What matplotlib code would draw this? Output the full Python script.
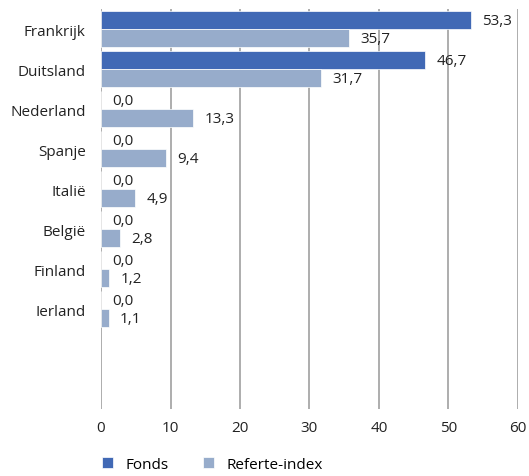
import matplotlib.pyplot as plt
import numpy as np

plt.rcParams['font.family'] = ['Open Sans', 'DejaVu Sans']

landen = ['Frankrijk', 'Duitsland', 'Nederland', 'Spanje', 'Italië', 'België', 'Finland', 'Ierland']
fonds = [53.3, 46.7, 0.0, 0.0, 0.0, 0.0, 0.0, 0.0]
referte = [35.7, 31.7, 13.3, 9.4, 4.9, 2.8, 1.2, 1.1]

kleur_fonds = '#4169b5'
kleur_ref = '#97accb'

fig = plt.figure(figsize=(5.29, 4.77), dpi=100)
ax = fig.add_axes([0.191, 0.140, 0.788, 0.839])

y = np.arange(len(landen))
h = 0.45
b1 = ax.barh(y - h / 2, fonds, height=h, color=kleur_fonds, edgecolor='white', linewidth=0.5,
             label='Fonds', zorder=3)
b2 = ax.barh(y + h / 2, referte, height=h, color=kleur_ref, edgecolor='white', linewidth=0.5,
             label='Referte-index', zorder=3)

fmt = lambda v: f'{v:.1f}'.replace('.', ',')
for bars, vals in [(b1, fonds), (b2, referte)]:
    for rect, v in zip(bars, vals):
        ax.annotate(fmt(v), (v, rect.get_y() + rect.get_height() / 2),
                    xytext=(8, 0), textcoords='offset points', va='center', ha='left',
                    fontsize=11, color='#222222')

ax.set_xlim(0, 60)
ax.set_ylim(9.5, -0.5)
ax.set_xticks(range(0, 61, 10))
ax.set_yticks(y)
ax.set_yticklabels(landen, fontsize=11)
ax.tick_params(axis='both', length=0, labelsize=11, colors='#222222')
ax.tick_params(axis='x', pad=8)
ax.tick_params(axis='y', pad=11)
ax.grid(axis='x', color='#a0a0a0', linewidth=1.2, zorder=0)
for s in ax.spines.values():
    s.set_visible(False)

ax.legend(loc='upper left', bbox_to_anchor=(-0.03, -0.085), ncol=2, frameon=False,
          fontsize=11, handlelength=0.7, handleheight=0.7, columnspacing=2.3,
          handletextpad=0.8)

fig.savefig('out.png', dpi=100)
